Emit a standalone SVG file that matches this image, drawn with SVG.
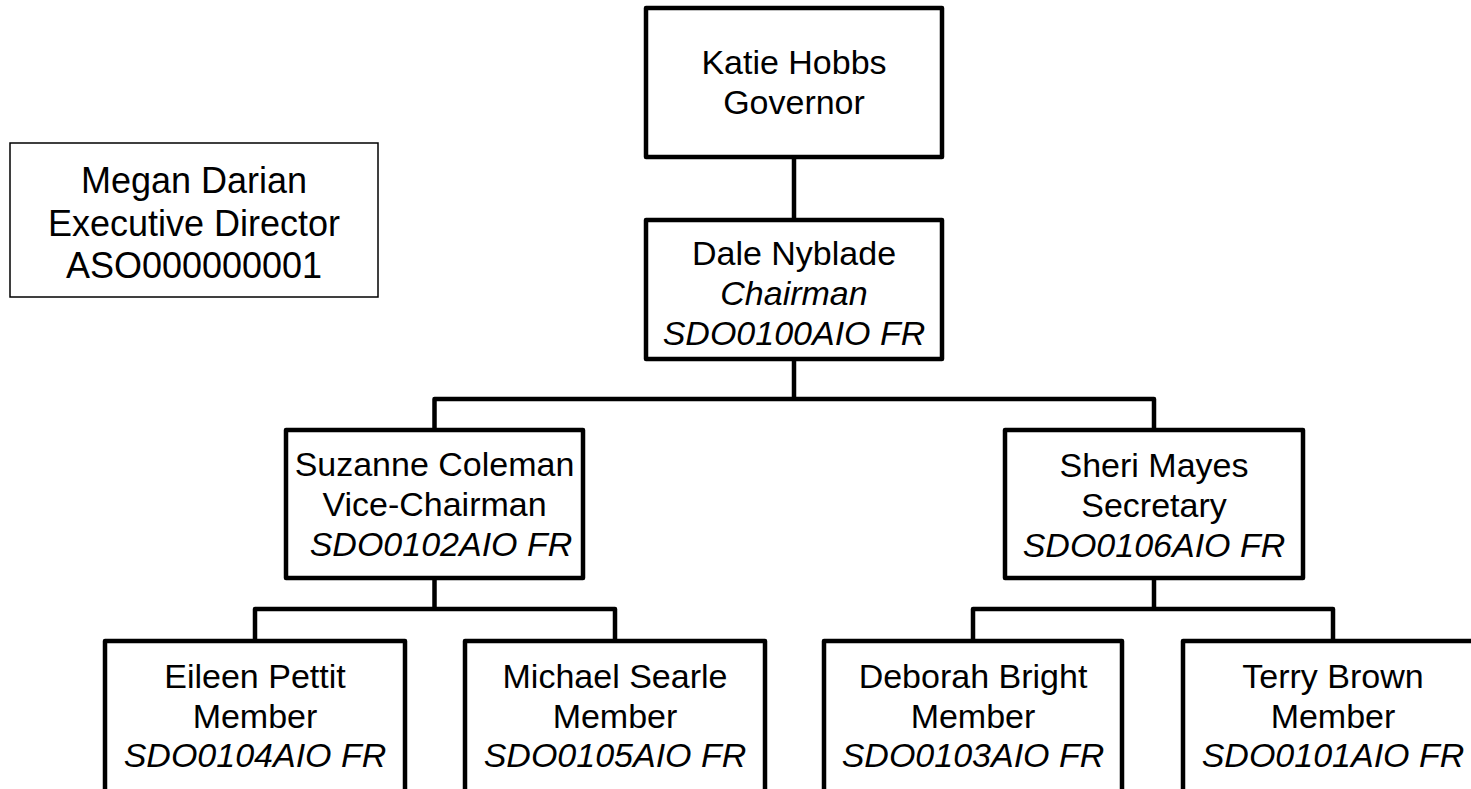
<svg xmlns="http://www.w3.org/2000/svg" width="1471" height="789" viewBox="0 0 1471 789">
<style>
.box{fill:#fff;stroke:#000;stroke-width:4.5;stroke-linejoin:round}
.thin{fill:#fff;stroke:#000;stroke-width:1.5}
.conn{fill:none;stroke:#000;stroke-width:4.5;stroke-linejoin:round}
text{font-family:"Liberation Sans",Arial,sans-serif;font-size:34px;fill:#000;text-anchor:middle}
.it{font-style:italic}
.big{font-size:36px}
</style>
<rect width="1471" height="789" fill="#fff"/>
<g id="connectors">
<path class="conn" d="M794 157V220"/>
<path class="conn" d="M794 359V399M434.5 430V399H1154V430"/>
<path class="conn" d="M434.5 578V609M255 641V609H615V641"/>
<path class="conn" d="M1154 578V609M973 641V609H1333V641"/>
</g>
<g id="megan">
<rect class="thin" x="10" y="143" width="368" height="154"/>
<text class="big" x="194" y="193">Megan Darian</text>
<text class="big" x="194" y="236">Executive Director</text>
<text class="big" x="194" y="278">ASO000000001</text>
</g>
<g id="katie">
<rect class="box" x="646" y="8" width="296" height="149"/>
<text x="794" y="74">Katie Hobbs</text>
<text x="794" y="114">Governor</text>
</g>
<g id="dale">
<rect class="box" x="646" y="220" width="296" height="139"/>
<text x="794" y="265">Dale Nyblade</text>
<text class="it" x="794" y="305">Chairman</text>
<text class="it" x="794" y="345">SDO0100AIO FR</text>
</g>
<g id="suzanne">
<rect class="box" x="286" y="430" width="297" height="148"/>
<text x="434.5" y="476">Suzanne Coleman</text>
<text x="434.5" y="516">Vice-Chairman</text>
<text class="it" x="441" y="556">SDO0102AIO FR</text>
</g>
<g id="sheri">
<rect class="box" x="1005" y="430" width="298" height="148"/>
<text x="1154" y="477">Sheri Mayes</text>
<text x="1154" y="517">Secretary</text>
<text class="it" x="1154" y="557">SDO0106AIO FR</text>
</g>
<g id="eileen">
<rect class="box" x="105" y="641" width="300" height="170"/>
<text x="255" y="688">Eileen Pettit</text>
<text x="255" y="728">Member</text>
<text class="it" x="255" y="767">SDO0104AIO FR</text>
</g>
<g id="michael">
<rect class="box" x="465" y="641" width="300" height="170"/>
<text x="615" y="688">Michael Searle</text>
<text x="615" y="728">Member</text>
<text class="it" x="615" y="767">SDO0105AIO FR</text>
</g>
<g id="deborah">
<rect class="box" x="824" y="641" width="298" height="170"/>
<text x="973" y="688">Deborah Bright</text>
<text x="973" y="728">Member</text>
<text class="it" x="973" y="767">SDO0103AIO FR</text>
</g>
<g id="terry">
<rect class="box" x="1183" y="641" width="300" height="170"/>
<text x="1333" y="688">Terry Brown</text>
<text x="1333" y="728">Member</text>
<text class="it" x="1333" y="767">SDO0101AIO FR</text>
</g>
</svg>
